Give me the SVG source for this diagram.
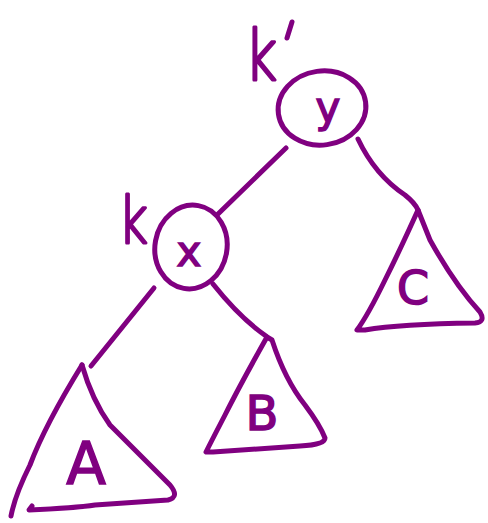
<svg xmlns="http://www.w3.org/2000/svg" width="488" height="523" viewBox="0 0 488 523">
<style>
.s{fill:none;stroke:#800080;stroke-width:5;stroke-linecap:round;stroke-linejoin:round}
.t{fill:#800080;stroke:#800080;stroke-width:1.5;font-family:"DejaVu Sans","Liberation Sans",sans-serif;text-anchor:middle}
.k{fill:#800080;stroke:#800080;stroke-width:3;stroke-linejoin:round;font-family:"DejaVu Sans","Liberation Sans",sans-serif;font-weight:300;text-anchor:middle}
</style>
<rect width="488" height="523" fill="#fff"/>
<g id="connectors">
<path class="s" d="M286,148 L218,214"/>
<path class="s" d="M358,139 Q375,175 405,195 Q415,203 418,210"/>
<path class="s" d="M154,288 Q120,330 91,366"/>
<path class="s" d="M213,284 Q240,318 266,336"/>
</g>
<g id="node-y">
<ellipse class="s" cx="322" cy="108" rx="44" ry="37" transform="rotate(-8 322 108)"/>
<text class="t" x="328" y="122" font-size="42">y</text>
<text class="k" x="0" y="0" font-size="70" transform="translate(261 80) scale(0.8 1)">k</text>
<path class="s" d="M292,22 L287,38"/>
</g>
<g id="node-x">
<ellipse class="s" cx="191" cy="247" rx="36" ry="42" transform="rotate(10 191 247)"/>
<text class="t" x="189" y="266" font-size="42">x</text>
<text class="k" x="0" y="0" font-size="64" transform="translate(133 243) scale(0.8 1)">k</text>
</g>
<g id="node-A">
<path class="s" d="M82,365 Q45,425 30,465 Q15,495 11,516"/>
<path class="s" d="M82,365 Q92,400 110,425 Q140,455 170,485 Q180,497 168,500 L95,505 Q75,508 29,510 L32,506"/>
<text class="t" x="86" y="484" font-size="58">A</text>
</g>
<g id="node-B">
<path class="s" d="M267,337 Q240,385 225,415 Q212,440 206,452 L213,452 L300,446 Q325,445 325,438 Q320,425 305,405 Q285,380 272,340 Z"/>
<text class="t" x="262" y="430" font-size="48">B</text>
</g>
<g id="node-C">
<path class="s" d="M418,210 Q400,250 385,280 Q368,315 357,330 L365,330 Q400,324 475,323 Q486,322 480,312 Q455,285 430,240 Z"/>
<text class="t" x="413" y="304" font-size="46">C</text>
</g>
</svg>
